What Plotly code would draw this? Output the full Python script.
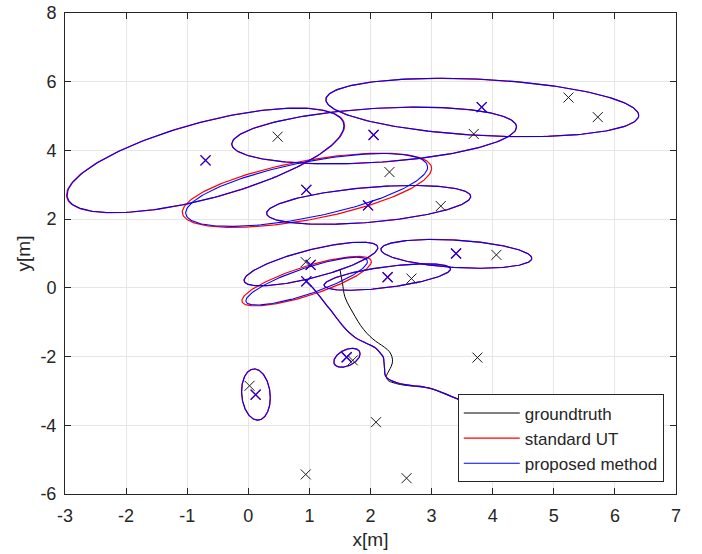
import numpy as np
import plotly.graph_objects as go

# ---------------- data ----------------
# landmarks (groundtruth)
gt_lm_x = [0.48, 2.31, 3.15, 3.69, 5.24, 5.72, 0.94, 2.67, 4.06, 1.71, 3.75, 0.02, 2.09, 0.94, 2.59]
gt_lm_y = [4.40, 3.37, 2.38, 4.48, 5.54, 4.97, 0.75, 0.27, 0.96, -2.11, -2.03, -2.85, -3.91, -5.43, -5.54]

# estimated landmarks
est_lm_x = [-0.70, 2.05, 3.82, 0.95, 1.96, 3.40, 2.28, 1.02, 0.95, 1.61, 0.12]
est_lm_y = [3.71, 4.45, 5.26, 2.85, 2.40, 1.00, 0.31, 0.67, 0.19, -2.02, -3.11]

# trajectories
gt_path_x = [1.50, 1.54, 1.58, 1.66, 1.75, 1.84, 1.94, 2.04, 2.13, 2.23, 2.31, 2.35, 2.36, 2.34, 2.30, 2.26, 2.29, 2.37, 2.54, 2.70, 2.86, 3.00, 3.08, 3.30, 3.57]
gt_path_y = [0.54, 0.15, -0.26, -0.56, -0.84, -1.10, -1.32, -1.49, -1.61, -1.73, -1.86, -2.00, -2.15, -2.28, -2.42, -2.58, -2.70, -2.76, -2.83, -2.86, -2.89, -2.93, -2.99, -3.15, -3.34]

est_path_x = [0.94, 1.06, 1.17, 1.28, 1.37, 1.45, 1.53, 1.61, 1.69, 1.77, 1.88, 1.99, 2.09, 2.16, 2.21, 2.22, 2.23, 2.24, 2.27, 2.32, 2.43, 2.54, 2.70, 2.86, 3.08, 3.30, 3.57]
est_path_y = [0.21, -0.01, -0.25, -0.50, -0.70, -0.89, -1.07, -1.23, -1.36, -1.47, -1.57, -1.66, -1.76, -1.90, -2.02, -2.15, -2.35, -2.54, -2.62, -2.68, -2.76, -2.81, -2.85, -2.88, -2.98, -3.14, -3.34]

# covariance ellipses: centre, x-half-extent, y-half-extent, correlation
ut_cx  = [-0.70, 2.06, 3.83, 0.96, 1.97, 1.025, 0.955, 2.275, 3.405, 1.615, 0.125]
ut_cy  = [3.71, 4.435, 5.25, 2.84, 2.415, 0.695, 0.195, 0.315, 0.99, -2.035, -3.105]
ut_sx  = [2.275, 2.33, 2.56, 2.04, 1.67, 1.095, 1.06, 1.035, 1.235, 0.215, 0.235]
ut_sy  = [1.525, 0.825, 0.85, 1.08, 0.565, 0.635, 0.72, 0.385, 0.42, 0.275, 0.745]
ut_rho = [0.66, 0.30, -0.27, 0.59, 0.43, 0.75, 0.79, 0.61, -0.31, 0.42, -0.12]

pm_cx  = [-0.70, 2.06, 3.83, 0.955, 1.97, 1.025, 0.955, 2.275, 3.405, 1.615, 0.125]
pm_cy  = [3.71, 4.435, 5.25, 2.85, 2.415, 0.695, 0.195, 0.315, 0.99, -2.035, -3.105]
pm_sx  = [2.265, 2.33, 2.56, 1.98, 1.67, 1.095, 0.995, 1.035, 1.235, 0.215, 0.235]
pm_sy  = [1.52, 0.825, 0.85, 1.06, 0.565, 0.635, 0.695, 0.385, 0.42, 0.275, 0.745]
pm_rho = [0.66, 0.30, -0.27, 0.63, 0.43, 0.75, 0.82, 0.61, -0.31, 0.42, -0.12]

legend_names = ["groundtruth", "standard UT", "proposed method"]

x_tick_vals = [-3, -2, -1, 0, 1, 2, 3, 4, 5, 6, 7]
x_tick_text = ["-3", "-2", "-1", "0", "1", "2", "3", "4", "5", "6", "7"]
y_tick_vals = [-6, -4, -2, 0, 2, 4, 6, 8]
y_tick_text = ["-6", "-4", "-2", "0", "2", "4", "6", "8"]


def ellipse_outline(cx, cy, sx, sy, rho, n=200):
    xs, ys = [], []
    phi = np.linspace(0, 2 * np.pi, n)
    for a, b, c, d, r in zip(cx, cy, sx, sy, rho):
        xs += list(a + c * np.cos(phi)) + [None]
        ys += list(b + d * (r * np.cos(phi) + np.sqrt(1 - r * r) * np.sin(phi))) + [None]
    return xs, ys


ut_ex, ut_ey = ellipse_outline(ut_cx, ut_cy, ut_sx, ut_sy, ut_rho)
pm_ex, pm_ey = ellipse_outline(pm_cx, pm_cy, pm_sx, pm_sy, pm_rho)

RED = "#ff0000"
BLUE = "#0000ff"
FONT = "Liberation Sans, Arial"

fig = go.Figure()
# groundtruth trajectory
fig.add_trace(go.Scatter(x=gt_path_x, y=gt_path_y, mode="lines", line=dict(color="#000000", width=1),
                         name=legend_names[0], line_shape="spline", legendrank=1))
# standard UT
fig.add_trace(go.Scatter(x=est_path_x, y=est_path_y, mode="lines", line=dict(color=RED, width=1.2),
                         name=legend_names[1], line_shape="spline", legendrank=2))
fig.add_trace(go.Scatter(x=ut_ex, y=ut_ey, mode="lines", line=dict(color=RED, width=1.2),
                         showlegend=False, hoverinfo="skip"))
fig.add_trace(go.Scatter(x=est_lm_x, y=est_lm_y, mode="markers",
                         marker=dict(symbol="x-thin-open", size=10, color=RED, line=dict(color=RED, width=1.2)),
                         showlegend=False))
# proposed method
fig.add_trace(go.Scatter(x=est_path_x, y=est_path_y, mode="lines", line=dict(color=BLUE, width=1.1),
                         name=legend_names[2], line_shape="spline", legendrank=3))
fig.add_trace(go.Scatter(x=pm_ex, y=pm_ey, mode="lines", line=dict(color=BLUE, width=1.1),
                         showlegend=False, hoverinfo="skip"))
fig.add_trace(go.Scatter(x=est_lm_x, y=est_lm_y, mode="markers",
                         marker=dict(symbol="x-thin-open", size=10, color=BLUE, line=dict(color=BLUE, width=1.1)),
                         showlegend=False))
# groundtruth landmarks
fig.add_trace(go.Scatter(x=gt_lm_x, y=gt_lm_y, mode="markers",
                         marker=dict(symbol="x-thin-open", size=10, color="#1a1a1a", line=dict(color="#1a1a1a", width=1)),
                         showlegend=False))

axis_common = dict(
    showline=True, linecolor="#262626", linewidth=1, mirror="ticks",
    ticks="inside", ticklen=6, tickcolor="#262626", tickwidth=1,
    showgrid=True, gridcolor="#e6e6e6", gridwidth=1, zeroline=False,
    tickfont=dict(family=FONT, size=18, color="#262626"),
    title_font=dict(family=FONT, size=19, color="#262626"),
    automargin=False,
)

fig.update_layout(
    width=702, height=554,
    margin=dict(l=65, r=26, t=13, b=60),
    paper_bgcolor="white", plot_bgcolor="white",
    xaxis=dict(range=[-3, 7], tickmode="array", tickvals=x_tick_vals, ticktext=x_tick_text,
               title_text="x[m]", title_standoff=8, ticklabelstandoff=5, **axis_common),
    yaxis=dict(range=[-6, 8], tickmode="array", tickvals=y_tick_vals, ticktext=y_tick_text,
               title_text="y[m]", title_standoff=4, ticklabelstandoff=4, **axis_common),
    legend=dict(x=0.980, y=0.024, xanchor="right", yanchor="bottom",
                bgcolor="white", bordercolor="#262626", borderwidth=1,
                font=dict(family=FONT, size=17, color="#262626"),
                itemwidth=56, tracegroupgap=0),
    showlegend=True,
)

fig.write_html("out.html")
